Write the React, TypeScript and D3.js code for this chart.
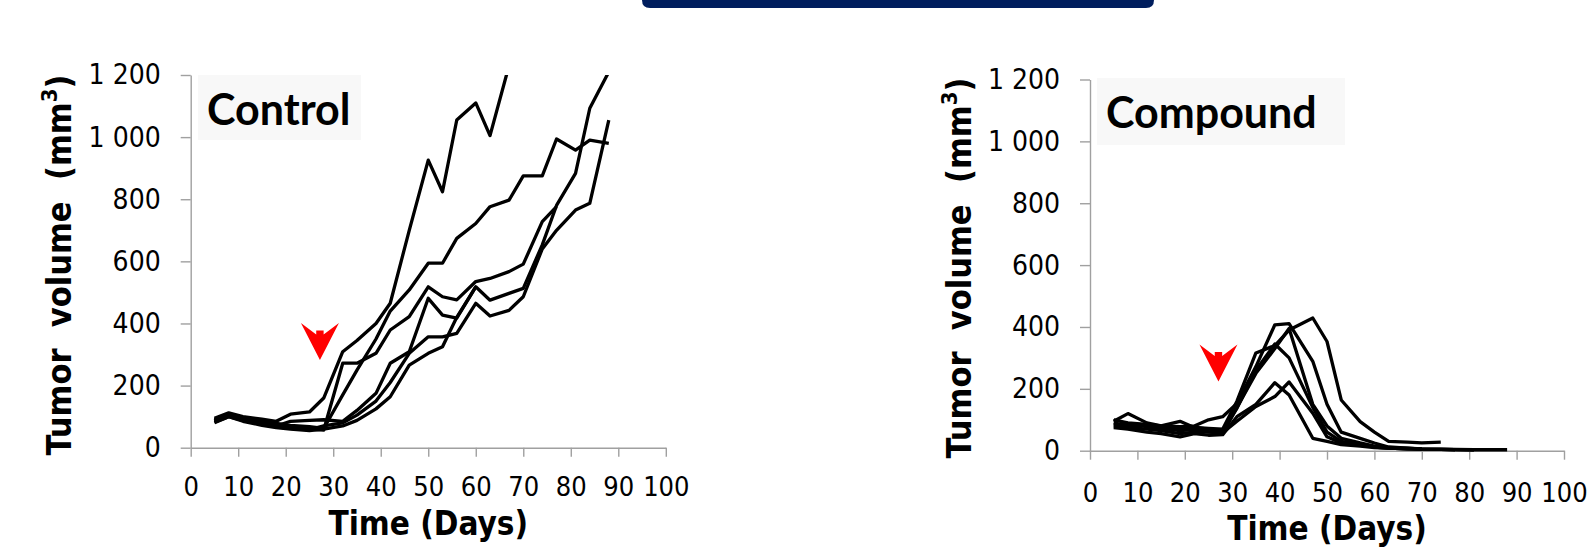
import React, { useEffect, useRef } from 'react';
import * as d3 from 'd3';

// sampling days (twice weekly measurements)
const controlDays = [5, 8, 11, 15, 18, 21, 25, 28, 32, 35, 39, 42, 46, 50, 53, 56, 60, 63, 67, 70, 74, 77, 81, 84, 88];
const compoundDays = [5, 8, 12, 15, 19, 22, 25, 28, 31, 35, 39, 42, 47, 50, 53, 57, 60, 63, 67, 70, 74, 77, 81, 84, 88];

// control group, one array per mouse (mm3)
const controlA = [95, 112, 100, 92, 85, 108, 115, 160, 309, 345, 400, 465, 700, 926, 824, 1055, 1110, 1005, 1230];
const controlB = [82, 100, 85, 72, 65, 60, 55, 60, 70, 88, 125, 164, 266, 304, 325, 420, 518, 475, 497, 513, 653, 780, 883, 1093, 1210];
const controlC = [90, 108, 95, 85, 78, 72, 68, 62, 170, 250, 350, 440, 508, 594, 594, 674, 722, 776, 797, 875, 875, 994, 958, 990, 980];
const controlD = [88, 110, 92, 80, 68, 62, 58, 70, 80, 105, 150, 210, 304, 357, 357, 368, 465, 424, 442, 486, 640, 700, 765, 787, 1055];
const controlE = [85, 105, 90, 80, 72, 65, 60, 57, 272, 272, 304, 379, 422, 518, 486, 476, 535, 545, 567, 591, 728, 776];
const controlF = [80, 100, 88, 76, 70, 85, 88, 90, 85, 120, 175, 272, 309, 481, 427, 417, 518];

// compound group
const compoundA = [90, 80, 85, 78, 72, 75, 72, 70, 160, 316, 340, 390, 429, 353, 164, 94, 60, 30, 28, 25, 28];
const compoundB = [95, 120, 90, 80, 78, 80, 100, 110, 153, 272, 407, 411, 289, 150, 60, 40, 25, 12, 8, 5, 4, 3, 2];
const compoundC = [80, 75, 70, 65, 55, 60, 62, 55, 140, 250, 330, 395, 150, 80, 40, 25, 15, 10, 8, 6, 5, 4, 3, 3, 3];
const compoundD = [100, 90, 85, 80, 95, 75, 70, 65, 137, 260, 345, 300, 140, 60, 30, 20, 12, 8, 6, 5, 4, 3];
const compoundE = [75, 70, 60, 55, 45, 55, 50, 52, 110, 150, 220, 180, 40, 30, 20, 15, 10, 8, 6, 5];
const compoundF = [85, 85, 78, 72, 65, 68, 60, 58, 95, 143, 175, 222, 121, 45, 25, 18, 12, 8, 6, 5];

const xTicks = [0, 10, 20, 30, 40, 50, 60, 70, 80, 90, 100];
const yTicks = [0, 200, 400, 600, 800, 1000, 1200];
const yTickLabels = ['0', '200', '400', '600', '800', '1 000', '1 200'];

// treatment start arrows [day, value at tip]
const controlArrow = [27.2, 282];
const compoundArrow = [27.1, 224];

const tickFont = "'DejaVu Sans Condensed', 'DejaVu Sans', sans-serif";
const titleFont = "Lato, 'Open Sans', sans-serif";

const panels = [
  {
    name: 'Control',
    days: controlDays,
    series: [controlA, controlB, controlC, controlD, controlE, controlF],
    arrow: controlArrow,
    xRange: [190.7, 665.8],
    yRange: [447.7, 75],
    box: { x: 198, y: 75, w: 163, h: 65 },
    yTitleX: 71,
    yTitleMid: 265,
    xTitleY: 535,
    xPad: 20,
  },
  {
    name: 'Compound',
    days: compoundDays,
    series: [compoundA, compoundB, compoundC, compoundD, compoundE, compoundF],
    arrow: compoundArrow,
    xRange: [1090, 1564],
    yRange: [450.7, 79.5],
    box: { x: 1097, y: 78, w: 248, h: 67 },
    yTitleX: 971,
    yTitleMid: 268,
    xTitleY: 540,
    xPad: 23,
  },
];

const App = () => {
  const ref = useRef<SVGSVGElement>(null);

  useEffect(() => {
    const svg = d3.select(ref.current);
    svg.selectAll('*').remove();

    // top banner
    svg.append('path')
      .attr('d', 'M642,0 H1154 V0 Q1154,8 1146,8 H650 Q642,8 642,0 Z')
      .attr('fill', '#001e5e');

    panels.forEach((p, pi) => {
      const x = d3.scaleLinear().domain([0, 100]).range(p.xRange);
      const y = d3.scaleLinear().domain([0, 1200]).range(p.yRange);
      const g = svg.append('g');

      // panel label box
      g.append('rect')
        .attr('x', p.box.x).attr('y', p.box.y)
        .attr('width', p.box.w).attr('height', p.box.h)
        .attr('fill', '#f8f8f8');
      g.append('text')
        .attr('x', p.box.x + 9)
        .attr('y', p.box.y + 50)
        .style('font-family', titleFont)
        .style('font-weight', 700)
        .style('font-size', '43px')
        .attr('fill', '#000')
        .text(p.name);

      // axes
      const yAxis = g.append('g')
        .attr('transform', `translate(${p.xRange[0]},0)`)
        .call(d3.axisLeft(y).tickValues(yTicks).tickSize(10).tickSizeOuter(0).tickPadding(20)
          .tickFormat((d, i) => yTickLabels[i]));
      const xAxis = g.append('g')
        .attr('transform', `translate(0,${p.yRange[0]})`)
        .call(d3.axisBottom(x).tickValues(xTicks).tickSize(9).tickSizeOuter(0).tickPadding(p.xPad)
          .tickFormat(d3.format('d')));
      [yAxis, xAxis].forEach((a) => {
        a.select('.domain').attr('stroke', '#a0a0a0').attr('stroke-width', 1.4);
        a.selectAll('.tick line').attr('stroke', '#a0a0a0').attr('stroke-width', 1.4);
        a.selectAll('.tick text')
          .style('font-family', tickFont)
          .style('font-stretch', 'condensed')
          .attr('fill', '#000');
      });
      yAxis.selectAll('.tick text').style('font-size', '28px');
      xAxis.selectAll('.tick text').style('font-size', '27px');

      // axis titles
      const yt = g.append('text')
        .attr('transform', `translate(${p.yTitleX},${p.yTitleMid}) rotate(-90)`)
        .attr('text-anchor', 'middle')
        .style('font-family', tickFont)
        .style('font-stretch', 'condensed')
        .style('font-weight', 700)
        .style('font-size', '34px')
        .style('white-space', 'pre')
        .attr('fill', '#000');
      yt.append('tspan').text('Tumor  volume  (mm');
      yt.append('tspan').attr('dy', -14).style('font-size', '22px').text('3');
      yt.append('tspan').attr('dy', 14).text(')');

      g.append('text')
        .attr('x', (p.xRange[0] + p.xRange[1]) / 2)
        .attr('y', p.xTitleY)
        .attr('text-anchor', 'middle')
        .style('font-family', tickFont)
        .style('font-stretch', 'condensed')
        .style('font-weight', 700)
        .style('font-size', '33px')
        .attr('fill', '#000')
        .text('Time (Days)');

      // clip at the top of the value axis
      const clipId = `clip-${pi}`;
      svg.append('clipPath').attr('id', clipId)
        .append('rect')
        .attr('x', p.xRange[0]).attr('y', p.yRange[1])
        .attr('width', p.xRange[1] - p.xRange[0] + 20)
        .attr('height', p.yRange[0] - p.yRange[1] + 20);

      const line = d3.line<[number, number]>()
        .x((d) => x(d[0]))
        .y((d) => y(d[1]));

      g.append('g')
        .attr('clip-path', `url(#${clipId})`)
        .selectAll('path')
        .data(p.series)
        .enter()
        .append('path')
        .attr('d', (s) => line(s.map((v, i) => [p.days[i], v] as [number, number])))
        .attr('fill', 'none')
        .attr('stroke', '#000')
        .attr('stroke-width', 3.3)
        .attr('stroke-linejoin', 'round');

      // red treatment arrow
      g.append('path')
        .attr('transform', `translate(${x(p.arrow[0])},${y(p.arrow[1])})`)
        .attr('d', 'M-19,-37 L-3.7,-25.5 L-3.7,-29.5 L3.7,-29.5 L3.7,-25.5 L19,-37 L0,0 Z')
        .attr('fill', '#ff0000');
    });
  }, []);

  return (
    <svg
      ref={ref}
      width={1588}
      height={554}
      style={{ position: 'absolute', left: 0, top: 0, background: '#fff' }}
    />
  );
};

export default App;
